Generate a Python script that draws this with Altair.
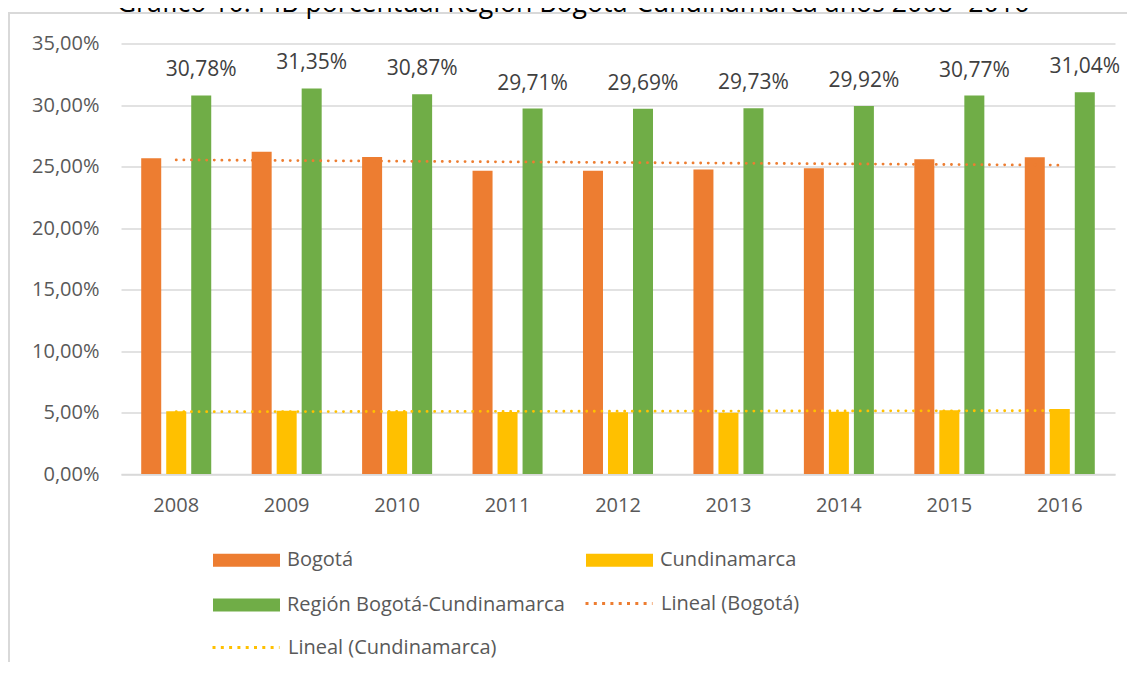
import altair as alt
import pandas as pd
import numpy as np

years = ["2008", "2009", "2010", "2011", "2012", "2013", "2014", "2015", "2016"]
bogota = [25.67, 26.20, 25.77, 24.66, 24.66, 24.75, 24.86, 25.58, 25.76]
cundinamarca = [5.11, 5.15, 5.10, 5.05, 5.03, 4.98, 5.06, 5.19, 5.28]
region = [30.78, 31.35, 30.87, 29.71, 29.69, 29.73, 29.92, 30.77, 31.04]

series_names = ["Bogotá", "Cundinamarca", "Región Bogotá-Cundinamarca"]
bar_colors = ["#ED7D31", "#FFC000", "#70AD47"]
# legend fills its grid column by column: this order gives
# row 1: Bogotá | Cundinamarca, row 2: Región Bogotá-Cundinamarca
legend_bar_order = ["Bogotá", "Región Bogotá-Cundinamarca", "Cundinamarca"]
legend_bar_colors = ["#ED7D31", "#70AD47", "#FFC000"]
trend_names = ["Lineal (Bogotá)", "Lineal (Cundinamarca)"]
trend_colors = ["#ED7D31", "#FFC000"]
y_ticks = [0, 5, 10, 15, 20, 25, 30, 35]
title_text = "Gráfico 10. PIB porcentual Región Bogotá-Cundinamarca años 2008 -2016"

FONT = "Open Sans"
GRAY = "#595959"
LEG = dict(
    title=None,
    orient="none",
    padding=0,
    labelOffset=7,
    labelFont=FONT,
    labelFontSize=20,
    labelColor=GRAY,
    labelLimit=400,
    symbolSize=4489,
    symbolOffset=0,
)

# bars table
rows = []
for name, vals in zip(series_names, [bogota, cundinamarca, region]):
    for y, v in zip(years, vals):
        rows.append({"year": y, "series": name, "value": v})
bars_df = pd.DataFrame(rows)
region_df = bars_df[bars_df["series"] == series_names[2]].copy()

# linear trend lines (least squares on the data)
idx = np.arange(len(years))
trend_tables = []
for name, vals in zip(trend_names, [bogota, cundinamarca]):
    slope, icpt = np.polyfit(idx, np.array(vals), 1)
    trend_tables.append(pd.DataFrame({
        "year": years,
        "series": name,
        "value": [float(icpt + slope * i) for i in idx],
    }))

x_enc = alt.X(
    "year:N",
    sort=years,
    scale=alt.Scale(paddingInner=0.366, paddingOuter=0.183),
    axis=alt.Axis(
        title=None,
        labelAngle=0,
        labelFont=FONT,
        labelFontSize=20,
        labelColor=GRAY,
        labelPadding=21,
        ticks=False,
        tickSize=0,
        domain=True,
        domainColor="#D9D9D9",
        domainWidth=1.5,
        grid=False,
    ),
)

y_enc = alt.Y(
    "value:Q",
    scale=alt.Scale(domain=[0, 35], nice=False, zero=True),
    axis=alt.Axis(
        title=None,
        values=y_ticks,
        labelExpr="replace(format(datum.value, '.2f'), '.', ',') + '%'",
        labelFont=FONT,
        labelFontSize=20,
        labelColor=GRAY,
        labelPadding=22,
        ticks=False,
        tickSize=0,
        domain=False,
        grid=True,
        gridColor="#D9D9D9",
        gridWidth=1.5,
    ),
)

xoff = alt.XOffset(
    "series:N",
    sort=series_names,
    scale=alt.Scale(domain=series_names, paddingInner=0.2, paddingOuter=0),
)

frame = alt.Chart(pd.DataFrame({"k": [0]})).mark_rect(
    fill="transparent", stroke="#D9D9D9", strokeWidth=2
).encode(
    x=alt.value(-112), x2=alt.value(1300), y=alt.value(-30.5), y2=alt.value(900)
)

bars = alt.Chart(bars_df).mark_bar().encode(
    x=x_enc,
    xOffset=xoff,
    y=y_enc,
    fill=alt.Fill(
        "series:N",
        scale=alt.Scale(domain=legend_bar_order, range=legend_bar_colors),
        legend=alt.Legend(
            legendX=92, legendY=483, columns=2, columnPadding=21, rowPadding=1,
            symbolType="M-1,-0.194H1V0.194H-1Z", symbolStrokeWidth=0, **LEG
        ),
    ),
)

labels = alt.Chart(region_df).transform_calculate(
    label="replace(format(datum.value, '.2f'), '.', ',') + '%'"
).mark_text(
    font=FONT, fontSize=21, color="#404040", baseline="alphabetic", dy=-19
).encode(
    x=alt.X("year:N", sort=years), xOffset=xoff, y="value:Q", text="label:N"
)

line_style = dict(strokeDash=[0.1, 7.5], strokeCap="round", strokeWidth=2.8)

trend_bog = alt.Chart(trend_tables[0]).mark_line(**line_style).encode(
    x=alt.X("year:N", sort=years),
    y="value:Q",
    stroke=alt.Stroke(
        "series:N",
        scale=alt.Scale(domain=[trend_names[0]], range=[trend_colors[0]]),
        legend=alt.Legend(
            legendX=463, legendY=525, symbolType="stroke",
            symbolDash=[3, 5.3], symbolStrokeWidth=3, **LEG
        ),
    ),
)

trend_cun = alt.Chart(trend_tables[1]).mark_line(**line_style).encode(
    x=alt.X("year:N", sort=years),
    y="value:Q",
    color=alt.Color(
        "series:N",
        scale=alt.Scale(domain=[trend_names[1]], range=[trend_colors[1]]),
        legend=alt.Legend(
            legendX=90, legendY=569, symbolType="stroke",
            symbolDash=[3, 5.3], symbolStrokeWidth=3, **LEG
        ),
    ),
)

# the reference shows only the lower edge of this heading, cut at the top
title = alt.Chart(pd.DataFrame({"t": [title_text]})).mark_text(
    font=FONT, fontSize=26.7, color="#000000", align="center", baseline="alphabetic"
).encode(x=alt.value(452), y=alt.value(-32), text="t:N")

chart = alt.layer(frame, bars, labels, trend_bog, trend_cun, title).resolve_scale(
    color="independent", stroke="independent", fill="independent"
).properties(
    width=994,
    height=430.5,
    padding={"left": 113, "top": 35.5, "right": 12, "bottom": 188},
    autosize=alt.AutoSizeParams(type="none"),
).configure_view(stroke=None)

chart.save("out.html", embed_options={"renderer": "svg", "actions": False})
